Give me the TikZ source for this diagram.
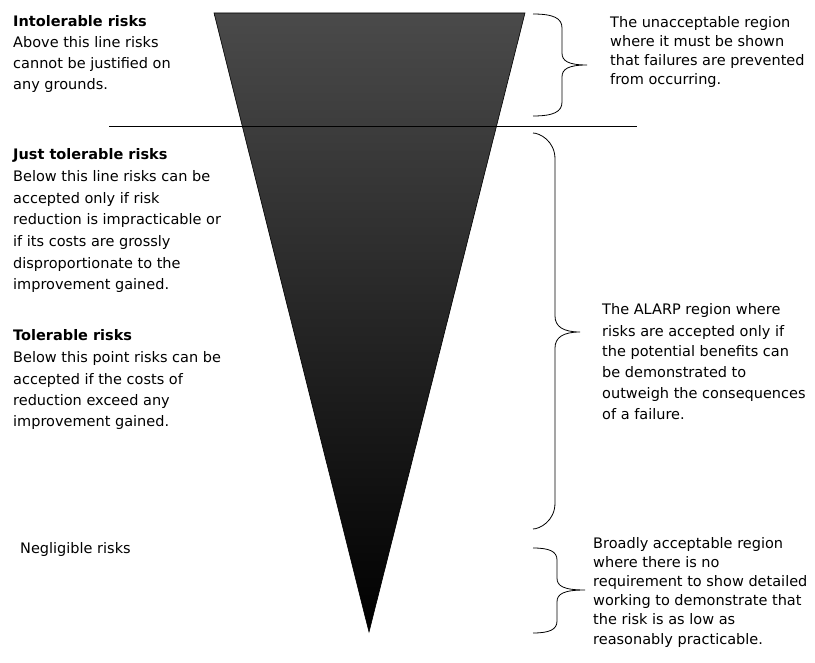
\documentclass[tikz,border=0pt]{standalone}
\usepackage{fontspec}
\setmainfont{DejaVu Sans}
\definecolor{topgray}{RGB}{74,74,74}
\newcommand\mybrace[8]{% x0, xv, xtip, ytop, ymid, ybot, rend, rmid
  \draw[bracestyle] (#1,#4) .. controls (#2-#7*0.6,#4) and (#2,#4+#7*0.3) .. (#2,#4+#7)
    -- (#2,#5-#8) .. controls (#2,#5-#8*0.35) and (#2+#8*0.5,#5) .. (#3,#5)
    .. controls (#2+#8*0.5,#5) and (#2,#5+#8*0.35) .. (#2,#5+#8)
    -- (#2,#6-#7) .. controls (#2,#6-#7*0.3) and (#2-#7*0.6,#6) .. (#1,#6);}
\begin{document}
\begin{tikzpicture}[x=1pt,y=-1pt,
  % anchor is the baseline of the LAST line of each block
  txt/.style={anchor=base west, inner sep=0pt, align=left, font=\fontsize{14.5}{#1}\selectfont},
  txt/.default=21,
  bracestyle/.style={draw=black, line width=0.8pt},
]
\useasboundingbox (0,0) rectangle (815,663);
% funnel
\coordinate (tl) at (214,13);
\coordinate (tr) at (525,13);
\coordinate (ap) at (369,632);
\shade[top color=topgray, bottom color=black] (tl) -- (tr) -- (ap) -- cycle;
\draw[line width=0.6pt] (tl) -- (tr) -- (ap) -- cycle;
% dividing line
\coordinate (hl) at (109,126);
\coordinate (hr) at (637,126);
\draw[line width=0.8pt] (hl) -- (hr);
% braces
\mybrace{533}{562}{587}{14}{65}{116}{14}{12}
\mybrace{533}{555}{580}{133}{332}{529}{26}{16}
\mybrace{533}{557}{585}{548}{590}{633}{12}{12}
% left texts
\node[txt] (intol) at (13,90) {\textbf{Intolerable risks}\\Above this line risks\\cannot be justified on\\any grounds.};
\node[txt=21.7] (justtol) at (13,290) {\textbf{Just tolerable risks}\\Below this line risks can be\\accepted only if risk\\reduction is impracticable or\\if its costs are grossly\\disproportionate to the\\improvement gained.};
\node[txt=21.5] (tol) at (13,427) {\textbf{Tolerable risks}\\Below this point risks can be\\accepted if the costs of\\reduction exceed any\\improvement gained.};
\node[txt] (negl) at (20,553) {Negligible risks};
% right texts
\node[txt=19] (unacc) at (610,85) {The unacceptable region\\where it must be shown\\that failures are prevented\\from occurring.};
\node[txt=21] (alarp) at (602,420) {The ALARP region where\\risks are accepted only if\\the potential benefits can\\be demonstrated to\\outweigh the consequences\\of a failure.};
\node[txt=19.2] (broad) at (593,644) {Broadly acceptable region\\where there is no\\requirement to show detailed\\working to demonstrate that\\the risk is as low as\\reasonably practicable.};
\end{tikzpicture}
\end{document}
